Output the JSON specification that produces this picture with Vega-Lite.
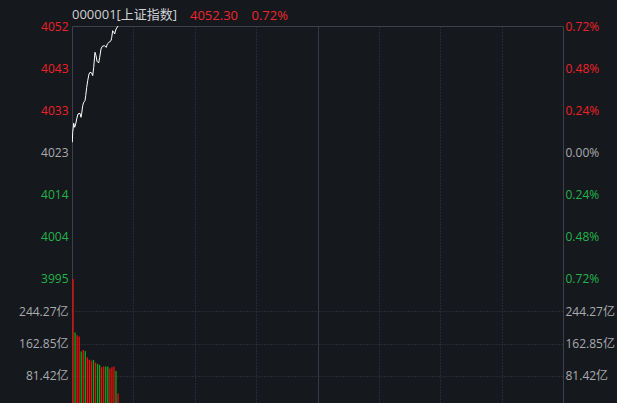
{
  "$schema": "https://vega.github.io/schema/vega-lite/v6.json",
  "usermeta": {"embedOptions": {"actions": false}},
  "background": "#15181d",
  "padding": {"left": 18, "top": 8, "right": 5, "bottom": 0},
  "spacing": 0,
  "bounds": "flush",
  "config": {
    "font": "Open Sans, Noto Sans CJK SC",
    "view": {"stroke": "#3d4047", "strokeWidth": 1},
    "axis": {
      "labelFont": "Open Sans, Noto Sans CJK SC",
      "labelFontSize": 12,
      "domain": false,
      "ticks": false,
      "title": null,
      "gridColor": "#3a3e46",
      "gridDash": [1, 2],
      "labelColor": "#a9abae"
    }
  },
  "title": {
    "text": "4052.30\u00a0\u00a0\u00a0\u00a00.72%",
    "anchor": "start",
    "frame": "group",
    "color": "#f0262d",
    "fontSize": 13,
    "fontWeight": "normal",
    "font": "Open Sans, Noto Sans CJK SC",
    "dx": 118,
    "dy": 18
  },
  "datasets": {
    "price": [
      {"t": 0.15, "p": 4025.67}, {"t": 0.34, "p": 4027.96}, {"t": 0.83, "p": 4030.02}, {"t": 1.32, "p": 4029.10},
      {"t": 1.81, "p": 4029.86}, {"t": 2.30, "p": 4031.00}, {"t": 2.93, "p": 4032.15}, {"t": 3.91, "p": 4032.31},
      {"t": 4.40, "p": 4031.39}, {"t": 4.74, "p": 4032.31}, {"t": 5.23, "p": 4034.05}, {"t": 5.72, "p": 4034.83},
      {"t": 6.35, "p": 4035.19}, {"t": 6.70, "p": 4036.34}, {"t": 7.19, "p": 4038.26}, {"t": 7.67, "p": 4039.77},
      {"t": 8.31, "p": 4041.31}, {"t": 8.80, "p": 4041.70}, {"t": 9.63, "p": 4041.54}, {"t": 10.12, "p": 4040.92},
      {"t": 10.61, "p": 4042.84}, {"t": 11.24, "p": 4046.28}, {"t": 11.73, "p": 4045.50}, {"t": 12.22, "p": 4044.22},
      {"t": 13.05, "p": 4043.83}, {"t": 13.54, "p": 4045.13}, {"t": 14.18, "p": 4047.03}, {"t": 14.81, "p": 4047.65},
      {"t": 15.79, "p": 4047.79}, {"t": 16.77, "p": 4047.42}, {"t": 17.25, "p": 4048.18}, {"t": 18.09, "p": 4048.57},
      {"t": 19.06, "p": 4048.93}, {"t": 19.41, "p": 4049.71}, {"t": 19.89, "p": 4051.22}, {"t": 20.38, "p": 4050.86},
      {"t": 20.87, "p": 4050.47}, {"t": 21.36, "p": 4051.38}, {"t": 21.85, "p": 4051.84}, {"t": 22.49, "p": 4052.30}
    ],
    "vol": [
      {"t": 0.5, "v": 325.5, "d": "up"}, {"t": 1.5, "v": 190.6, "d": "down"}, {"t": 2.5, "v": 184.0, "d": "up"},
      {"t": 3.5, "v": 180.5, "d": "up"}, {"t": 4.5, "v": 142.7, "d": "down"}, {"t": 5.5, "v": 147.0, "d": "up"},
      {"t": 6.5, "v": 144.4, "d": "down"}, {"t": 7.5, "v": 127.6, "d": "up"}, {"t": 8.5, "v": 122.5, "d": "up"},
      {"t": 9.5, "v": 120.0, "d": "up"}, {"t": 10.5, "v": 121.8, "d": "down"}, {"t": 11.5, "v": 114.9, "d": "up"},
      {"t": 12.5, "v": 111.7, "d": "down"}, {"t": 13.5, "v": 109.1, "d": "down"}, {"t": 14.5, "v": 103.4, "d": "up"},
      {"t": 15.5, "v": 104.9, "d": "up"}, {"t": 16.5, "v": 104.9, "d": "down"}, {"t": 17.5, "v": 104.9, "d": "down"},
      {"t": 18.5, "v": 99.8, "d": "up"}, {"t": 19.5, "v": 103.4, "d": "up"}, {"t": 20.5, "v": 104.9, "d": "up"},
      {"t": 21.5, "v": 94.0, "d": "down"}, {"t": 22.5, "v": 36.8, "d": "up"}
    ]
  },
  "vconcat": [
    {
      "width": 491,
      "height": 377,
      "title": {
        "text": "000001[上证指数]",
        "anchor": "start",
        "frame": "group",
        "color": "#cfd1d4",
        "fontSize": 13,
        "fontWeight": "normal",
        "font": "Open Sans, Noto Sans CJK SC",
        "offset": -2
      },
      "layer": [
        {
          "data": {"name": "vol"},
          "mark": {"type": "bar", "width": 1.3, "clip": true},
          "encoding": {
            "x": {
              "field": "t", "type": "quantitative",
              "scale": {"domain": [0, 240], "nice": false, "zero": false, "padding": 0},
              "axis": {
                "labels": false, "grid": true, "labelPadding": 0, "minExtent": 0, "maxExtent": 0,
                "values": [30, 60, 90, 120, 150, 180, 210],
                "gridDash": {"condition": {"test": "datum.value == 120", "value": [1, 0]}, "value": [1, 2]},
                "gridColor": {"condition": {"test": "datum.value == 120", "value": "#43464d"}, "value": "#3a3e46"}
              }
            },
            "y": {
              "field": "v", "type": "quantitative",
              "scale": {"domain": [13.12, 963.4], "nice": false, "zero": false, "padding": 0},
              "axis": {
                "orient": "left",
                "labelPadding": 4,
                "values": [81.42, 162.85, 244.27],
                "labelExpr": "format(datum.value, '.2f') + '亿'"
              }
            },
            "color": {
              "field": "d", "type": "nominal",
              "scale": {"domain": ["up", "down"], "range": ["#f0100a", "#0aa81c"]},
              "legend": null
            }
          }
        },
        {
          "data": {"name": "vol"},
          "mark": {"type": "bar", "width": 1, "opacity": 0, "clip": true},
          "encoding": {
            "x": {"field": "t", "type": "quantitative", "scale": {"domain": [0, 240], "nice": false, "zero": false, "padding": 0}},
            "y": {
              "field": "v", "type": "quantitative",
              "scale": {"domain": [13.12, 963.4], "nice": false, "zero": false, "padding": 0},
              "axis": {
                "orient": "right",
                "grid": false,
                "labelPadding": 2,
                "values": [81.42, 162.85, 244.27],
                "labelExpr": "format(datum.value, '.2f') + '亿'"
              }
            }
          }
        },
        {
          "data": {"name": "price"},
          "mark": {"type": "line", "color": "#ffffff", "strokeWidth": 1, "clip": true},
          "encoding": {
            "x": {"field": "t", "type": "quantitative", "scale": {"domain": [0, 240], "nice": false, "zero": false, "padding": 0}},
            "y": {
              "field": "p", "type": "quantitative",
              "scale": {"domain": [3965.96, 4052.30], "nice": false, "zero": false},
              "axis": {
                "orient": "left",
                "labelPadding": 4,
                "values": [3994.36, 4004.02, 4013.67, 4023.33, 4032.99, 4042.64, 4052.30],
                "labelExpr": "datum.value < 3995 ? '3995' : format(datum.value, '.0f')",
                "labelColor": {"condition": [{"test": "datum.value > 4024", "value": "#ee2128"}, {"test": "datum.value < 4022", "value": "#22b449"}], "value": "#a9abae"},
                "gridDash": {"condition": {"test": "abs(datum.value - 4023.33) < 0.5 || datum.value < 3995", "value": [1, 0]}, "value": [1, 2]},
                "gridColor": {"condition": {"test": "abs(datum.value - 4023.33) < 0.5 || datum.value < 3995", "value": "#43464d"}, "value": "#3a3e46"}
              }
            }
          }
        },
        {
          "data": {"name": "price"},
          "mark": {"type": "line", "opacity": 0},
          "encoding": {
            "x": {"field": "t", "type": "quantitative", "scale": {"domain": [0, 240], "nice": false, "zero": false, "padding": 0}},
            "y": {
              "field": "p", "type": "quantitative",
              "scale": {"domain": [3965.96, 4052.30], "nice": false, "zero": false},
              "axis": {
                "orient": "right",
                "grid": false,
                "labelPadding": 2,
                "values": [3994.36, 4004.02, 4013.67, 4023.33, 4032.99, 4042.64, 4052.30],
                "labelExpr": "format(abs(datum.value - 4023.33) / 4023.33 * 100, '.2f') + '%'",
                "labelColor": {"condition": [{"test": "datum.value > 4024", "value": "#ee2128"}, {"test": "datum.value < 4022", "value": "#22b449"}], "value": "#a9abae"}
              }
            }
          }
        }
      ],
      "resolve": {"scale": {"y": "independent"}}
    }
  ]
}
